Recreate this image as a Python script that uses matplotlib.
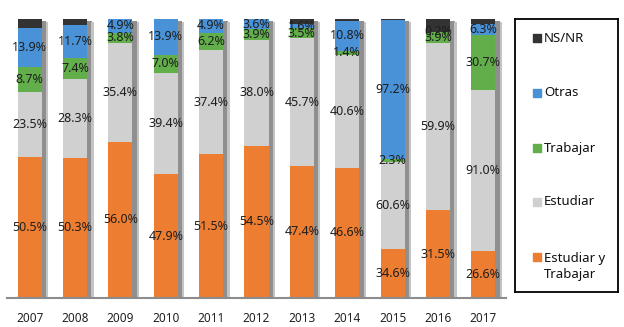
import matplotlib.pyplot as plt
import numpy as np

plt.rcParams['font.family'] = ['Noto Sans', 'DejaVu Sans']

# data (bars are stacked to 100% of the row total)
years = ['2007', '2008', '2009', '2010', '2011', '2012', '2013', '2014', '2015', '2016', '2017']
estudiar_trabajar = [50.5, 50.3, 56.0, 47.9, 51.5, 54.5, 47.4, 46.6, 34.6, 31.5, 26.6]
estudiar = [23.5, 28.3, 35.4, 39.4, 37.4, 38.0, 45.7, 40.6, 60.6, 59.9, 91.0]
trabajar = [8.7, 7.4, 3.8, 7.0, 6.2, 3.9, 3.5, 1.4, 2.3, 3.9, 30.7]
otras = [13.9, 11.7, 4.9, 13.9, 4.9, 3.6, 1.6, 10.8, 97.2, 0.2, 6.3]
ns_nr = [3.4, 2.3, 0.0, 0.0, 0.0, 0.0, 1.8, 0.6, 1.0, 4.5, 2.8]  # not labelled, estimated

series = [
    ('Estudiar y\nTrabajar', estudiar_trabajar, '#ED7D31', True),
    ('Estudiar', estudiar, '#D0D0D0', True),
    ('Trabajar', trabajar, '#62AE4A', True),
    ('Otras', otras, '#4A92D8', True),
    ('NS/NR', ns_nr, '#333333', False),
]

W, H = 624, 327
fig = plt.figure(figsize=(W / 100, H / 100), dpi=100)
ax = fig.add_axes([7 / W, (H - 298) / H, 499 / W, 279 / H])

x = np.arange(len(years))
totals = np.sum([s[1] for s in series], axis=0)
bw = 0.53

# soft shadow on the right of every bar
ax.bar(x + bw / 2 + 0.05, 99.3, width=0.10, color='#8f8f8f', zorder=1)
ax.bar(x + bw / 2 + 0.12, 99.0, width=0.05, color='#c4c4c4', zorder=1)

bottom = np.zeros(len(years))
for name, vals, col, lab in series:
    h = np.array(vals) / totals * 100
    ax.bar(x, h, bw, bottom=bottom, color=col, zorder=2)
    if lab:
        for xi, b, hi, v in zip(x, bottom, h, vals):
            ax.text(xi, b + hi / 2, f'{v:.1f}%', ha='center', va='center',
                    fontsize=9, color='#1e1e1e', zorder=3)
    bottom += h

ax.set_xlim(-0.5, len(years) - 0.5)
ax.set_ylim(0, 100)
ax.set_xticks(x)
ax.set_xticklabels(years, fontsize=8.5, color='#222222', fontweight='medium')
ax.tick_params(axis='x', length=0, pad=10)
ax.set_yticks([])
for sp in ['top', 'right', 'left']:
    ax.spines[sp].set_visible(False)
ax.spines['bottom'].set_color('#8c8c8c')
ax.spines['bottom'].set_linewidth(1.5)

# legend drawn in its own framed box
lax = fig.add_axes([515 / W, (H - 292) / H, 103 / W, 273 / H])
lax.set_xlim(0, 1)
lax.set_ylim(0, 1)
lax.set_xticks([])
lax.set_yticks([])
for sp in lax.spines.values():
    sp.set_color('black')
    sp.set_linewidth(1.3)
ys = [0.93, 0.729, 0.527, 0.33, 0.128]
for (name, vals, col, lab), yy in zip(series[::-1], ys):
    lax.scatter([0.21], [yy], marker='s', s=34, color=col)
    ty = yy if '\n' not in name else yy - 0.035
    lax.text(0.28, ty, name, ha='left', va='center', fontsize=9.5,
             color='#111111', linespacing=1.35)

fig.savefig('out.png', dpi=100)
